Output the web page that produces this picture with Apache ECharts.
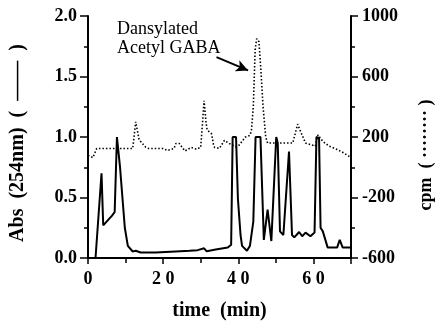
<!DOCTYPE html>
<html>
<head>
<meta charset="utf-8">
<script src="https://cdn.jsdelivr.net/npm/echarts@6/dist/echarts.min.js"></script>
<style>
  html, body { margin: 0; padding: 0; background: #fff; }
  #chart { width: 443px; height: 326px; }
</style>
</head>
<body>
<div id="chart"></div>
<script>
// Abs (254nm), solid line, left axis
var absTime = [0, 2.0, 3.6, 4.05, 6.4, 7.1, 7.7, 8.5, 9.8, 10.6, 11.9, 12.7, 14.0, 18.0, 23.3, 27.0, 29.2, 30.9, 31.6, 34.0, 37.2,
  38.1, 38.5, 39.4, 39.9, 40.6, 41.0, 42.3, 43.1, 44.0, 44.6, 45.9, 46.8, 47.8, 48.3, 48.8, 50.1, 50.5, 51.1, 52.0,
  53.5, 54.3, 54.9, 56.2, 57.0, 57.9, 59.2, 60.3, 60.8, 61.5, 61.9, 62.5, 63.8, 66.3, 67.0, 67.8, 70];
var absValue = [0, 0, 0.70, 0.27, 0.35, 0.38, 1.0, 0.76, 0.25, 0.10, 0.054, 0.06, 0.045, 0.045, 0.054, 0.06, 0.065, 0.08, 0.055, 0.07, 0.086,
  0.11, 1.0, 1.0, 0.49, 0.19, 0.10, 0.06, 0.10, 0.30, 1.0, 1.0, 0.15, 0.40, 0.27, 0.14, 1.0, 0.95, 0.22, 0.19,
  0.88, 0.19, 0.17, 0.215, 0.18, 0.21, 0.18, 0.21, 1.0, 0.99, 0.25, 0.22, 0.086, 0.086, 0.15, 0.086, 0.086];

// cpm, dotted line, right axis
var cpmTime = [0, 1.3, 2.3, 11.9, 12.7, 13.6, 15.3, 16.1, 19.9, 21.2, 22.9, 23.4, 24.3, 25.8, 27.5, 28.8, 30.0, 30.5, 30.9, 31.4, 31.7,
  32.9, 33.4, 33.7, 35.0, 36.3, 37.6, 39.3, 40.2, 41.9, 43.1, 43.5, 44.0, 44.5, 44.9, 45.5, 46.0, 46.6, 47.3, 47.8,
  54.5, 55.8, 56.6, 57.9, 59.2, 60.5, 61.2, 62.5, 64.2, 66.3, 68.0, 69.3, 70];
var cpmValue = [79, 64, 124, 124, 300, 182, 134, 124, 124, 111, 124, 157, 157, 108, 131, 120, 131, 300, 440, 300, 246,
  221, 150, 131, 125, 178, 157, 135, 146, 200, 211, 243, 400, 780, 850, 830, 650, 400, 200, 160,
  160, 285, 235, 160, 150, 139, 214, 171, 139, 118, 96, 75, 64];

var xTicks = { min: 0, max: 70, interval: 20 };
var absTicks = { min: 0, max: 2, interval: 0.5 };
var cpmTicks = { min: -600, max: 1000, interval: 400 };

function pairs(xs, ys) {
  return xs.map(function (x, i) { return [x, ys[i]]; });
}

var serif = '"Liberation Serif", "DejaVu Serif", serif';
var chart = echarts.init(document.getElementById('chart'));

chart.setOption({
  animation: false,
  backgroundColor: '#fff',
  textStyle: { fontFamily: serif },
  grid: { left: 88, right: 79, top: 16, bottom: 61 },
  xAxis: {
    type: 'value',
    min: xTicks.min,
    max: xTicks.max,
    interval: xTicks.interval,
    name: 'time  (min)',
    nameLocation: 'middle',
    nameGap: 43,
    nameTextStyle: { fontFamily: serif, fontWeight: 'bold', fontSize: 20, color: '#000' },
    axisLine: { onZero: false, lineStyle: { color: '#000', width: 2 } },
    axisTick: { length: 6, lineStyle: { color: '#000', width: 1.5 } },
    minorTick: { show: true, splitNumber: 2, length: 5, lineStyle: { color: '#000', width: 1.5 } },
    axisLabel: {
      fontFamily: serif, fontWeight: 'bold', fontSize: 18, color: '#000', margin: 12,
      showMaxLabel: false,
      formatter: function (v) { return String(v).split('').join(' '); }
    },
    splitLine: { show: false }
  },
  yAxis: [{
    type: 'value',
    position: 'left',
    min: absTicks.min,
    max: absTicks.max,
    interval: absTicks.interval,
    name: 'Abs  (254nm)  (  \u2014\u2014  )',
    nameLocation: 'middle',
    nameRotate: 90,
    nameGap: 60,
    nameTextStyle: { fontFamily: serif, fontWeight: 'bold', fontSize: 20, color: '#000', padding: [0, 12, 0, 0] },
    axisLine: { show: true, lineStyle: { color: '#000', width: 2 } },
    axisTick: { show: true, length: 8, lineStyle: { color: '#000', width: 1.5 } },
    minorTick: { show: true, splitNumber: 2, length: 4, lineStyle: { color: '#000', width: 1.5 } },
    axisLabel: {
      fontFamily: serif, fontWeight: 'bold', fontSize: 18, color: '#000', margin: 11,
      formatter: function (v) { return v.toFixed(1); }
    },
    splitLine: { show: false }
  }, {
    type: 'value',
    position: 'right',
    min: cpmTicks.min,
    max: cpmTicks.max,
    interval: cpmTicks.interval,
    name: 'cpm  ( \u00b7\u00b7\u00b7\u00b7\u00b7\u00b7\u00b7\u00b7 )',
    nameLocation: 'middle',
    nameRotate: 90,
    nameGap: 66,
    nameTextStyle: { fontFamily: serif, fontWeight: 'bold', fontSize: 18, color: '#000', padding: [0, 36, 0, 0] },
    axisLine: { show: true, lineStyle: { color: '#000', width: 2 } },
    axisTick: { show: true, length: 7, lineStyle: { color: '#000', width: 1.5 } },
    minorTick: { show: true, splitNumber: 2, length: 4, lineStyle: { color: '#000', width: 1.5 } },
    axisLabel: {
      fontFamily: serif, fontWeight: 'bold', fontSize: 18, color: '#000', margin: 11,
      formatter: function (v) { return String(v); }
    },
    splitLine: { show: false }
  }],
  series: [{
    name: 'Abs',
    type: 'line',
    yAxisIndex: 0,
    data: pairs(absTime, absValue),
    showSymbol: false,
    lineStyle: { color: '#000', width: 2 },
    z: 3,
    markLine: {
      silent: true,
      symbol: ['none', 'arrow'],
      symbolSize: [9, 12],
      label: { show: false },
      lineStyle: { color: '#000', width: 2, type: 'solid' },
      data: [[{ coord: [34.2, 1.66] }, { coord: [42.6, 1.55] }]]
    }
  }, {
    name: 'cpm',
    type: 'line',
    yAxisIndex: 1,
    data: pairs(cpmTime, cpmValue),
    showSymbol: false,
    lineStyle: { color: '#000', width: 1.6, type: [1.5, 2] },
    z: 2
  }],
  graphic: [{
    type: 'text',
    left: 117,
    top: 20,
    style: {
      text: 'Dansylated\nAcetyl GABA',
      fontFamily: serif,
      fontSize: 18,
      lineHeight: 19,
      fill: '#000'
    }
  }]
});
</script>
</body>
</html>
